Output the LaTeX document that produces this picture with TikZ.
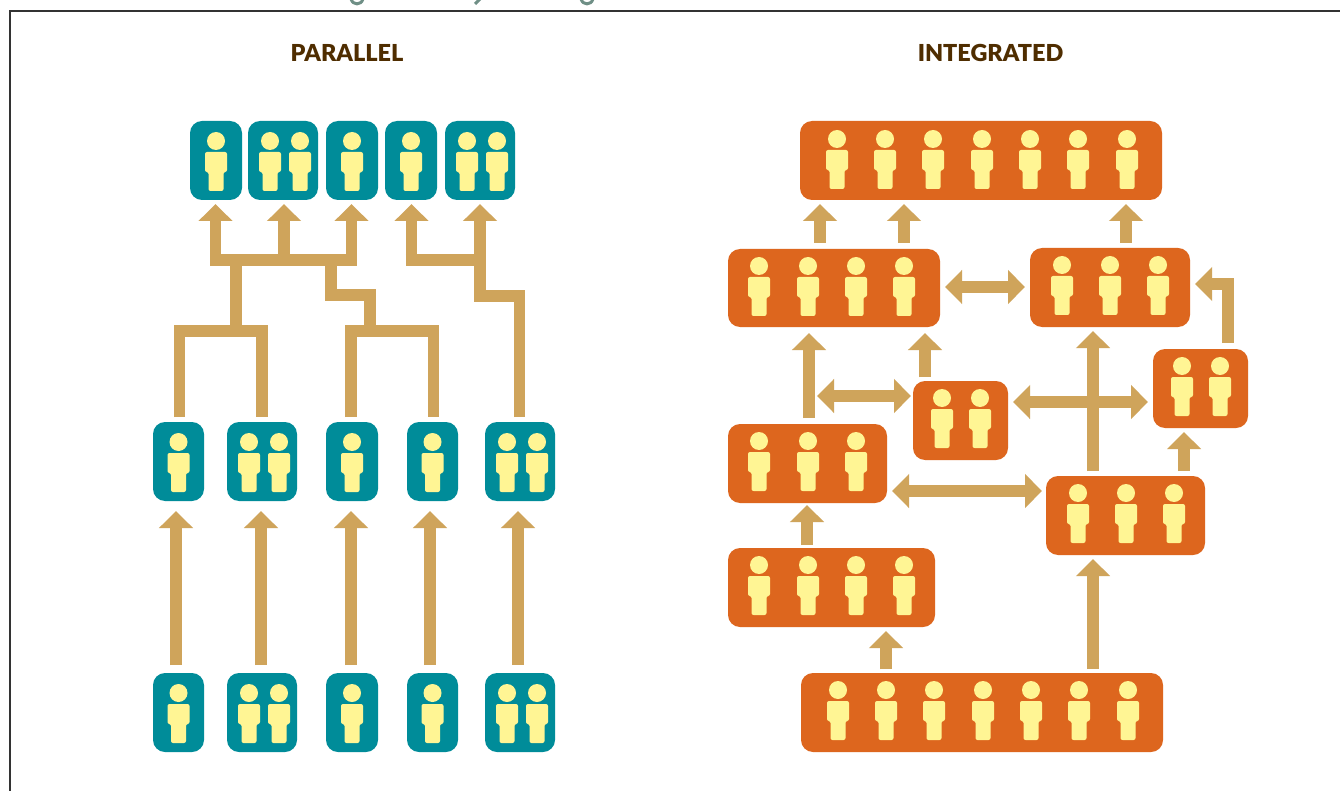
\documentclass[tikz,border=0pt]{standalone}
\usepackage{fontspec}
\setmainfont{Lato}
\newfontfamily\headfont{Lato Black}
\usetikzlibrary{arrows.meta}
\definecolor{tealc}{HTML}{008C99}
\definecolor{orangec}{HTML}{DD661E}
\definecolor{yellowc}{HTML}{FFF594}
\definecolor{tanc}{HTML}{CFA45B}
\definecolor{brownc}{HTML}{4F2D00}
\definecolor{framec}{HTML}{333333}
\definecolor{greyc}{HTML}{6F8F86}
\tikzset{
  x=1pt,y=-1pt,
  boxbase/.style={rectangle,rounded corners=12pt,inner sep=0pt,outer sep=0pt},
  tealbox/.style={boxbase,fill=tealc},
  orangebox/.style={boxbase,fill=orangec},
  trunk/.style={draw=tanc,line width=11.5pt,line cap=butt,line join=miter},
  flowtip/.tip={Triangle[length=17pt,width=33pt]},
  flow/.style={trunk,-{flowtip}},
  dflow/.style={trunk,{flowtip}-{flowtip}},
  heading/.style={font=\headfont\fontsize{23.4}{26}\selectfont,text=brownc,inner sep=0pt},
  person/.pic={
    \fill[yellowc] (0,0) circle[radius=9pt];
    \fill[yellowc,rounded corners=2pt] (-11,11) -- (11,11) -- (11,31) -- (7.5,31) -- (7.5,50) -- (-7.5,50) -- (-7.5,31) -- (-11,31) -- cycle;
  }
}
% style, name, x0, x1, y0, y1
\newcommand{\bx}[6]{\node[#1,minimum width={(#4-#3)*1pt},minimum height={(#6-#5)*1pt}] (#2) at ({(#3+#4)/2},{(#5+#6)/2}) {};}
% head row y, list of head x
\newcommand{\folk}[2]{\foreach \px in {#2} {\pic at (\px,#1) {person};}}
% from, to, x, tail gap, tip gap (upward)
\newcommand{\vflow}[5]{\coordinate (g) at (#3,0); \draw[flow,shorten <=#4pt,shorten >=#5pt] (#1.north -| g) -- (#2.south -| g);}
% left, right, y, left gap, right gap (both ways)
\newcommand{\hflow}[5]{\coordinate (g) at (0,#3); \draw[dflow,shorten <=#4pt,shorten >=#5pt] (#1.east |- g) -- (#2.west |- g);}
\begin{document}
\begin{tikzpicture}
\useasboundingbox (0,0) rectangle (1340,791);
\fill[white] (0,0) rectangle (1340,791);
% clipped remains of a heading above the frame
\begin{scope}
\clip (0,0) rectangle (1340,10);
\draw[greyc,line width=3pt] (351,-1) .. controls (353,5.5) and (361,5.5) .. (363,-1);
\draw[greyc,line width=3pt] (475,4) -- (480,-1);
\draw[greyc,line width=3pt] (581,-1) .. controls (583,5.5) and (591,5.5) .. (593,-1);
\end{scope}
\draw[framec,line width=1.3pt] (10,791) -- (10,11) -- (1340,11);
\node[heading] (h1) at (347,53) {PARALLEL};
\node[heading] (h2) at (990.5,53) {INTEGRATED};
% teal boxes
\bx{tealbox}{T1}{190}{242}{121}{200}
\bx{tealbox}{T2}{248}{318}{121}{200}
\bx{tealbox}{T3}{326}{378}{121}{200}
\bx{tealbox}{T4}{385}{437}{121}{200}
\bx{tealbox}{T5}{445}{515}{121}{200}
\bx{tealbox}{M1}{153}{204}{422}{501}
\bx{tealbox}{M2}{227}{297}{422}{501}
\bx{tealbox}{M3}{326}{378}{422}{501}
\bx{tealbox}{M4}{407}{458}{422}{501}
\bx{tealbox}{M5}{485}{555}{422}{501}
\bx{tealbox}{B1}{153}{204}{673}{752}
\bx{tealbox}{B2}{227}{297}{673}{752}
\bx{tealbox}{B3}{326}{378}{673}{752}
\bx{tealbox}{B4}{407}{458}{673}{752}
\bx{tealbox}{B5}{485}{555}{673}{752}
\folk{141}{216,270,300,352,411,467,497}
\folk{442}{178.5,249,279,352,432.5,507,537}
\folk{693}{178.5,249,279,352,432.5,507,537}
% orange boxes
\bx{orangebox}{O1}{800}{1162}{121}{200}
\bx{orangebox}{O2}{728}{940}{249}{327}
\bx{orangebox}{O3}{1030}{1190}{248}{327}
\bx{orangebox}{O4}{913}{1008}{381}{460}
\bx{orangebox}{O5}{1153}{1248}{349}{428}
\bx{orangebox}{O6}{728}{887}{424}{503}
\bx{orangebox}{O7}{1046}{1205}{476}{555}
\bx{orangebox}{O8}{728}{935}{548}{627}
\bx{orangebox}{O9}{801}{1163}{673}{752}
\folk{139}{837,885,933,982,1030,1078,1127}
\folk{266}{759,808,856,904}
\folk{265}{1062,1110,1158}
\folk{398}{942,980}
\folk{366}{1182,1220}
\folk{441}{759,808,856}
\folk{493}{1078,1126,1174}
\folk{565}{759,808,856,904}
\folk{690}{838,886,934,983,1031,1079,1128}
% parallel: straight arrows
\vflow{B1}{M1}{176}{8}{10}
\vflow{B2}{M2}{261}{8}{10}
\vflow{B3}{M3}{351}{8}{10}
\vflow{B4}{M4}{430}{8}{10}
\vflow{B5}{M5}{518}{8}{10}
% parallel: merging trees
\coordinate (a1) at (215.5,260); \coordinate (a2) at (284,260); \coordinate (a3) at (351.5,260);
\coordinate (a4) at (411.5,260); \coordinate (a5) at (480,260);
\coordinate (s1) at (236,260); \coordinate (s2) at (236,331);
\coordinate (l1) at (179.5,331); \coordinate (l2) at (262,331);
\coordinate (r1) at (351,331); \coordinate (r2) at (433.5,331);
\coordinate (k1) at (331,260); \coordinate (k2) at (331,295); \coordinate (k3) at (370,295); \coordinate (k4) at (370,331);
\coordinate (e1) at (480,296); \coordinate (e2) at (519.5,296);
\draw[dflow,shorten <=4pt,shorten >=4pt] (T1.south -| a1) -- (a1) -- (a3) -- (T3.south -| a3);
\draw[flow,shorten >=4pt] (a2) -- (T2.south -| a2);
\draw[trunk] (s1) -- (s2);
\draw[trunk,shorten <=5pt,shorten >=5pt] (M1.north -| l1) -- (l1) -- (l2) -- (M2.north -| l2);
\draw[trunk] (k1) -- (k2) -- (k3) -- (k4);
\draw[trunk,shorten <=5pt,shorten >=5pt] (M3.north -| r1) -- (r1) -- (r2) -- (M4.north -| r2);
\draw[flow,shorten >=4pt] ([yshift=-5.75pt]a4) -- (T4.south -| a4);
\draw[trunk] ([xshift=-5.75pt]a4) -- (a5);
\draw[flow,shorten <=5pt,shorten >=4pt] (M5.north -| e2) -- (e2) -- (e1) -- (T5.south -| e1);
% integrated: arrows
\vflow{O2}{O1}{820}{6}{4}
\vflow{O2}{O1}{904}{6}{4}
\vflow{O3}{O1}{1126}{5}{4}
\hflow{O2}{O3}{287}{5}{5}
\vflow{O6}{O2}{809}{6}{6}
\vflow{O4}{O2}{925}{4}{6}
\coordinate (g) at (0,396);
\draw[dflow,shorten <=-1pt,shorten >=2pt] (O6.east |- g) ++(-69,0) -- (O4.west |- g);
\hflow{O4}{O5}{402}{5}{5}
\vflow{O7}{O3}{1093}{5}{4}
\vflow{O7}{O5}{1184}{5}{4}
\hflow{O6}{O7}{491}{5}{4}
\vflow{O8}{O6}{807}{3}{2}
\vflow{O9}{O8}{886}{4}{4}
\vflow{O9}{O7}{1093}{4}{4}
\coordinate (c1) at (1228,284);
\draw[flow,shorten <=6pt,shorten >=5pt] (O5.north -| c1) -- (c1) -- (O3.east |- c1);
\end{tikzpicture}
\end{document}
